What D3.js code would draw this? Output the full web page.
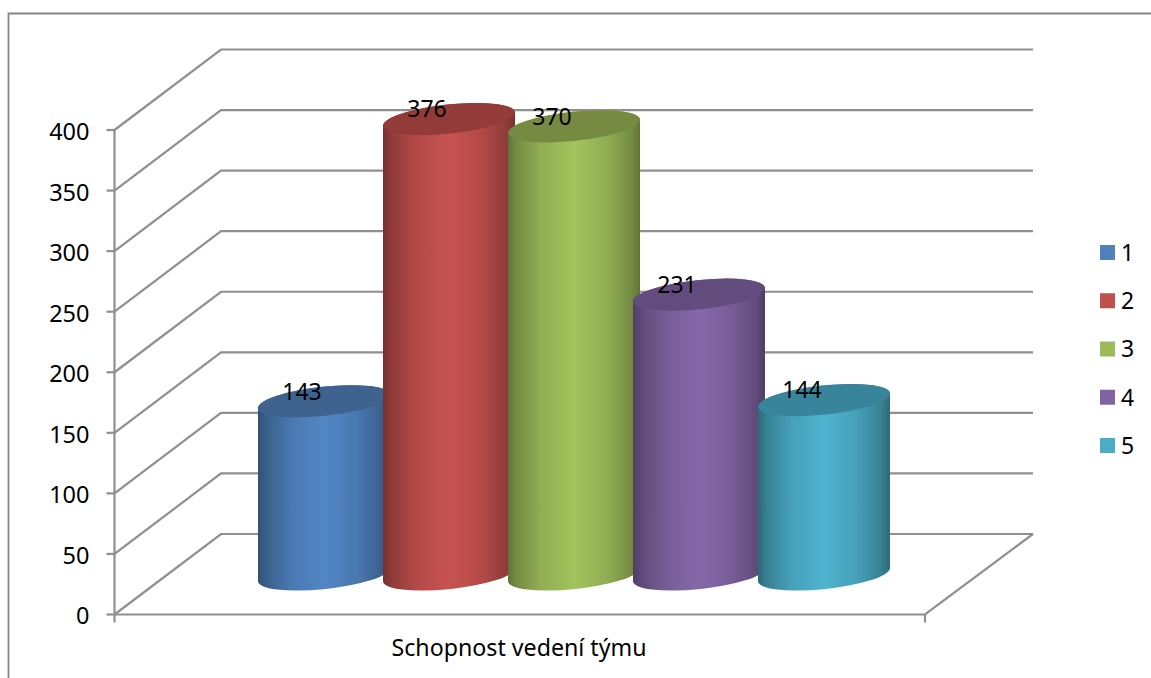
<!DOCTYPE html>
<html><head><meta charset="utf-8">
<script src="https://cdn.jsdelivr.net/npm/d3@7/dist/d3.min.js"></script>
<style>html,body{margin:0;padding:0;background:#fff}svg{display:block}text{font-family:"Noto Sans",sans-serif;fill:#000}</style>
</head><body><svg id="c" width="1151" height="678"></svg>
<script>
const seriesNames = ["1","2","3","4","5"];
const seriesValues = [143,376,370,231,144];
const seriesColors = ["#4F81BD","#C0504D","#9BBB59","#8064A2","#4BACC6"];
const topColors = ["#3E638F","#923B39","#768A42","#624C7D","#38849A"];
const yTicks = [0,50,100,150,200,250,300,350,400];
const categoryLabel = "Schopnost vedení týmu";

const svg = d3.select("#c");
const grid = "#8f8f8f";
const W = {x0:114.5, x1:925, y0:614.5, y400:130, dx:106.5, dy:-80.5, backRight:1033};
const y = d3.scaleLinear().domain([0,400]).range([W.y0,W.y400]);
const heightOf = v => y(0)-y(v);
const x = d3.scaleBand().domain(seriesNames).range([258,258+125*5]).paddingInner(0).paddingOuter(0);
const barW = 132, rx = 66.3, ry = 14.6, tilt = -6, baseY = 574.5, edge = 6.5, halfW = 66;

svg.append("path").attr("d","M8.5,678V13.5H1151").attr("fill","none").attr("stroke","#868686").attr("stroke-width",1.8);

const g = svg.append("g").attr("fill","none").attr("stroke",grid).attr("stroke-width",2.2);
yTicks.forEach(t=>{
  const yy=y(t);
  g.append("path").attr("d",`M${W.x0},${yy}L${W.x0+W.dx},${yy+W.dy}H${W.backRight}`);
  g.append("line").attr("x1",W.x0-8).attr("x2",W.x0).attr("y1",yy).attr("y2",yy);
  svg.append("text").attr("x",W.x0-25).attr("y",yy+1.5).attr("dy","0.36em").attr("text-anchor","end").attr("font-size",23.5).text(t);
});
g.append("line").attr("x1",W.x0).attr("x2",W.x0).attr("y1",y(400)).attr("y2",W.y0+8);
g.append("path").attr("d",`M${W.x0},${W.y0}H${W.x1}L${W.backRight},${W.y0+W.dy}`);
g.append("line").attr("x1",W.x1).attr("x2",W.x1).attr("y1",W.y0).attr("y2",W.y0+8);

const defs = svg.append("defs");
seriesNames.forEach((n,i)=>{
  const c=d3.color(seriesColors[i]);
  const stops=[[0,c.darker(1.35)],[.07,c.darker(.8)],[.25,c.darker(.2)],[.5,c.brighter(.12)],[.75,c.darker(.2)],[.93,c.darker(.8)],[1,c.darker(1.35)]];
  const lg=defs.append("linearGradient").attr("id","g"+i);
  stops.forEach(s=>lg.append("stop").attr("offset",s[0]).attr("stop-color",s[1].formatHex()));
});

const bars=svg.selectAll("g.bar").data(seriesValues).join("g").attr("class","bar");
bars.each(function(v,i){
  const cx=x(seriesNames[i])+barW/2, topY=baseY-heightOf(v), s=d3.select(this);
  const L=cx-halfW,R=cx+halfW;
  s.append("path").attr("fill",`url(#g${i})`)
   .attr("d",`M${L},${topY+edge}L${L},${baseY+edge}A${rx},${ry},${tilt},0,0,${R},${baseY-edge}L${R},${topY-edge}A${rx},${ry},${tilt},0,0,${L},${topY+edge}Z`);
  s.append("ellipse").attr("cx",0).attr("cy",0).attr("rx",rx).attr("ry",ry)
   .attr("transform",`translate(${cx},${topY}) rotate(${tilt})`).attr("fill",topColors[i]);
});

svg.selectAll("text.val").data(seriesValues).join("text").attr("class","val")
  .attr("x",(d,i)=>x(seriesNames[i])+barW/2-22).attr("y",d=>baseY-heightOf(d)-10)
  .attr("dy","0.36em").attr("text-anchor","middle").attr("font-size",23).text(d=>d);

svg.append("text").attr("x",519).attr("y",648).attr("dy","0.36em").attr("text-anchor","middle").attr("font-size",23.2).text(categoryLabel);

const legY=d3.scalePoint().domain(seriesNames).range([252.5,445.5]);
seriesNames.forEach((n,i)=>{
  svg.append("rect").attr("x",1100).attr("y",legY(n)-7.5).attr("width",15).attr("height",15).attr("fill",seriesColors[i]);
  svg.append("text").attr("x",1121).attr("y",legY(n)).attr("dy","0.36em").attr("font-size",23).text(n);
});
</script></body></html>
